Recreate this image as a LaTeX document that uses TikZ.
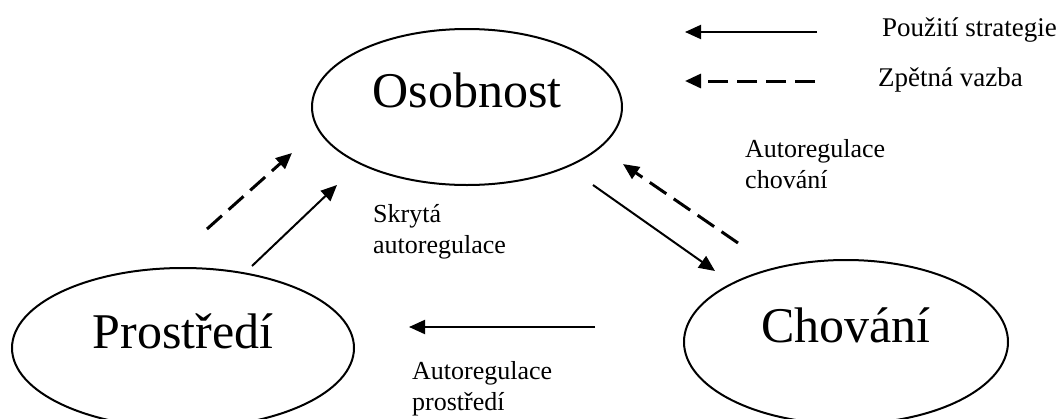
\documentclass[tikz,border=0pt]{standalone}
\usepackage{fontspec}
\setmainfont{Liberation Serif}
\usetikzlibrary{shapes.geometric,arrows.meta}
\tikzset{
  oval/.style={draw, ellipse, line width=2pt, inner sep=0pt},
  bigname/.style={font=\fontsize{50}{58}\selectfont, inner sep=0pt, anchor=base},
  note/.style={font=\fontsize{26}{30.5}\selectfont, align=left, inner sep=0pt, anchor=base west},
  legendtext/.style={font=\fontsize{27}{32}\selectfont, inner sep=0pt, anchor=base west},
  usetip/.style={-{Triangle[length=16pt,width=14pt]}},
  useflow/.style={line width=2pt, usetip},
  feedback/.style={line width=3pt, dash pattern=on 20pt off 9pt, usetip},
}
\begin{document}
\begin{tikzpicture}[x=1pt,y=-1pt]
\useasboundingbox (0,0) rectangle (1061,418);
\clip (0,0) rectangle (1061,418);

% the three ellipses
\node[oval, minimum width=310pt, minimum height=156pt] (osob) at (467,107) {};
\node[oval, minimum width=342pt, minimum height=160pt] (prost) at (183,348) {};
\node[oval, minimum width=324pt, minimum height=164pt] (chov) at (846,342) {};
\node[bigname] (osobT) at (osob.center) {Osobnost};
\node[bigname] (prostT) at (prost.center) {Prostředí};
\node[bigname] (chovT) at (chov.center) {Chování};

% arrow end points
\coordinate (pA) at (252,266);  \coordinate (oA) at (337,185);
\coordinate (pB) at (207,229);  \coordinate (oB) at (292,153);
\coordinate (oC) at (593,185);  \coordinate (cC) at (715,271);
\coordinate (cD) at (738,243);  \coordinate (oD) at (623,164);
\coordinate (cE) at (595,327);  \coordinate (pE) at (409,327);

\draw[useflow] (pA) -- (oA);
\draw[feedback] (pB) -- (oB);
\draw[useflow] (oC) -- (cC);
\draw[feedback] (cD) -- (oD);
\draw[useflow] (cE) -- (pE);

% labels (anchored at the baseline of the last line)
\node[note] (lab1) at (373,253) {Skrytá\\autoregulace};
\node[note] (lab2) at (745,188) {Autoregulace\\chování};
\node[note] (lab3) at (412,410) {Autoregulace\\prostředí};

% legend
\coordinate (l1s) at (817,32); \coordinate (l1e) at (685,32);
\coordinate (l2s) at (815,81); \coordinate (l2e) at (685,81);
\draw[useflow] (l1s) -- (l1e);
\draw[feedback] (l2s) -- (l2e);
\node[legendtext] (leg1) at (882,36) {Použití strategie};
\node[legendtext] (leg2) at (878,86) {Zpětná vazba};
\end{tikzpicture}
\end{document}
